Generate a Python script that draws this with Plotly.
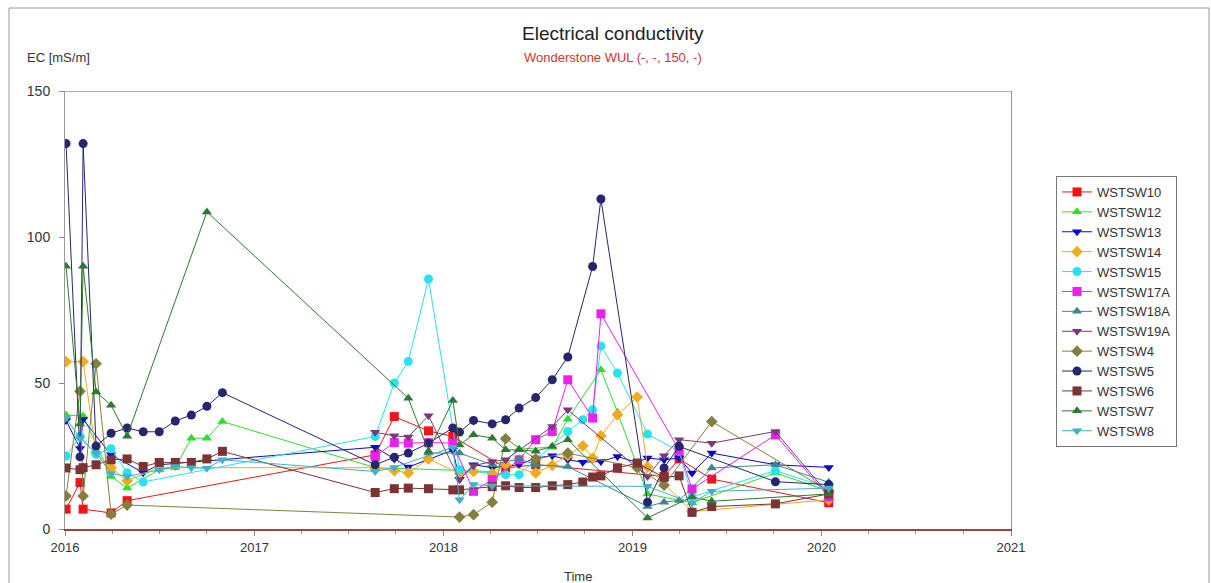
import plotly.graph_objects as go

N = None

DATES = [
    "2016-01-03", "2016-01-30", "2016-02-05", "2016-03-01", "2016-03-30", "2016-04-30",
    "2016-05-31", "2016-07-01", "2016-08-01", "2016-09-01", "2016-10-01", "2016-10-31",
    "2017-08-22", "2017-09-28", "2017-10-25", "2017-12-03", "2018-01-19", "2018-02-01",
    "2018-02-28", "2018-04-05", "2018-05-01", "2018-05-27", "2018-06-28", "2018-07-30",
    "2018-08-29", "2018-09-27", "2018-10-16", "2018-11-01", "2018-12-03", "2019-01-10",
    "2019-01-30", "2019-03-03", "2019-04-01", "2019-04-26", "2019-06-03", "2019-10-04",
    "2020-01-15",
]

WSTSW10 = [6.8, 15.9, 6.8, N, 5.5, 9.7, N, N, N, N, N, N,
           25.4, 38.5, N, 33.6, 31.7, N, N, N, 20.9, N, 22, N,
           N, N, N, N, N, N, N, 18, 24, N, 17.1, N, 9]
WSTSW12 = [39, N, 38.7, N, 18, 14, N, 20.3, 21, 31.1, 31.1, 36.8,
           21, N, N, N, N, N, N, 19.7, N, 27.4, N, 28,
           37.6, N, N, 54.5, 40, N, 12, N, N, 9, N, 19.2, 13]
WSTSW13 = [37.2, 27.6, 37.5, N, 25.4, N, 19.3, 22, N, N, N, N,
           28, 24, 21.2, N, 27, 17, 22, 21, N, 22, 24.3, 25.1,
           23.7, 22.9, N, 23.1, 24.8, 22.8, 24.3, 23.7, 24.3, 19.2, 26, 22, 21.1]
WSTSW14 = [57.3, N, 57.3, 26, 21, 16.5, N, 21, N, N, N, N,
           21, 20, 19.2, 24, N, 19, 19.7, 19, 22, N, 19.2, 21.8,
           25.1, 28.5, 24.3, 31.9, 39.1, 45.2, 21.2, N, N, 6, N, N, 10]
WSTSW15 = [25, 31.8, N, 25.6, 27.5, 19.3, 16.1, N, N, N, N, N,
           31.7, 50, 57.4, 85.6, N, 20.3, N, N, 18.6, 18.6, N, N,
           33.4, 37.4, 40.8, 62.7, 53.4, N, 32.5, N, 26.6, 11, N, 20, 14]
WSTSW17A = [N, N, N, N, N, N, N, N, N, N, N, N,
            24.8, 29.6, 29.4, 29.6, 29.4, N, 12.9, 16.9, N, 23.7, 30.6, 33.4,
            51.1, N, 38, 73.7, N, N, N, N, 27, 13.7, N, 32.2, 11]
WSTSW18A = [N, N, N, N, N, N, N, N, N, N, N, N,
            N, N, N, 26, N, 26, N, 22, N, 24, 22, N,
            21.4, N, N, N, N, N, 7.7, 9.2, 9.8, N, 20.9, 22, 16]
WSTSW19A = [N, N, N, N, N, N, N, N, N, N, N, N,
            33.1, 31.9, 31.5, 38.8, N, 16.9, 21.7, 23.1, 23.7, N, N, 35.1,
            40.8, N, N, N, N, N, 18, 25.1, 30.6, N, 29.4, 33.4, 11.7]
WSTSW4 = [11.3, 47.2, 11.3, 56.6, 5.1, 8.2, N, N, N, N, N, N,
          N, N, N, N, N, 4.1, 4.9, 9.2, 30.9, N, 24, N,
          26, N, N, N, N, 21, N, 15, N, N, 36.8, N, 13]
WSTSW5 = [132, 24.7, 132, 28.4, 32.8, 34.6, 33.3, 33.3, 37, 39, 42, 46.7,
          22, 24.6, 26, 29.4, 34.6, 33.2, 37.2, 36, 37.4, 41.4, 45, 51.1,
          58.9, N, 89.9, 113, N, N, 9.2, 20.9, 28.3, N, N, 16.2, 15.2]
WSTSW6 = [20.9, 20.3, 21, 22, 23.7, 24, 21.4, 22.8, 22.8, 22.8, 24, 26.6,
          12.5, 13.8, 14, 13.8, 13.4, 13.4, N, 14.5, 14.8, 14.2, 14.2, 14.8,
          15.2, 16.1, 17.8, 18.2, 20.9, 22.6, N, 17.7, 18.2, 5.7, 7.7, 8.6, 12]
WSTSW7 = [90, 36, 90, 46.9, 42.4, 31.8, N, N, N, N, 108.6, N,
          N, N, 44.8, 26.6, 44, 28.8, 32.3, 31.1, 27.1, 27.1, 26.6, 28.3,
          30.6, N, N, N, N, N, 3.8, N, N, 11, 9.5, N, 12]
WSTSW8 = [38, 31, N, 26, 19, 18, N, 20.3, 21.4, 21, 20.8, 23.7,
          19.7, 21.1, N, N, 28, 10, 15.2, 14.8, N, N, N, N,
          N, N, N, N, N, N, 14.6, N, N, 8.9, 12.9, N, 14]

SERIES = [
    ("WSTSW10", WSTSW10, "#ee1515", "square"),
    ("WSTSW12", WSTSW12, "#2ee02e", "triangle-up"),
    ("WSTSW13", WSTSW13, "#0a0acc", "triangle-down"),
    ("WSTSW14", WSTSW14, "#f2aa1e", "diamond"),
    ("WSTSW15", WSTSW15, "#26e3ee", "circle"),
    ("WSTSW17A", WSTSW17A, "#ee20ee", "square"),
    ("WSTSW18A", WSTSW18A, "#3a8a8a", "triangle-up"),
    ("WSTSW19A", WSTSW19A, "#7a3a7a", "triangle-down"),
    ("WSTSW4", WSTSW4, "#857f3f", "diamond"),
    ("WSTSW5", WSTSW5, "#25266e", "circle"),
    ("WSTSW6", WSTSW6, "#7b3333", "square"),
    ("WSTSW7", WSTSW7, "#2f7a33", "triangle-up"),
    ("WSTSW8", WSTSW8, "#42b0c8", "triangle-down"),
]

LIMIT = 150

fig = go.Figure()
for name, vals, color, sym in SERIES:
    fig.add_trace(go.Scatter(
        x=DATES, y=vals, name=name, mode="lines+markers", connectgaps=True,
        line=dict(color=color, width=1),
        marker=dict(color=color, symbol=sym, size=9),
    ))

L, R, T, B = 65, 200, 91, 54
W, H = 1211, 583
pw, ph = W - L - R, H - T - B

def px(x):
    return (x - L) / pw

def py(y):
    return (H - B - y) / ph

fig.update_layout(
    width=W, height=H, autosize=False,
    margin=dict(l=L, r=R, t=T, b=B),
    paper_bgcolor="white", plot_bgcolor="white",
    font=dict(family="Liberation Sans, Arial, sans-serif", size=13, color="#333"),
    showlegend=True,
    legend=dict(x=px(1056), y=py(176), xanchor="left", yanchor="top",
                bordercolor="#777", borderwidth=1, bgcolor="white",
                font=dict(size=13, color="#333"), tracegroupgap=0, itemwidth=30),
    xaxis=dict(type="date", range=["2016-01-01", "2021-01-01"], dtick="M12",
               tick0="2016-01-01", tickformat="%Y", ticks="outside", ticklen=5,
               tickcolor="#888", showgrid=False, zeroline=False,
               showline=True, linecolor="#a04040", linewidth=2,
               minor=dict(dtick="M3", ticks="outside", ticklen=3, tickcolor="#999"),
               tickfont=dict(size=13, color="#333")),
    yaxis=dict(range=[0, 150], tickvals=[0, 50, 100, 150], ticks="outside",
               ticklen=5, tickcolor="#888", showgrid=False, zeroline=False,
               showline=True, linecolor="#999", linewidth=1, mirror=True,
               ticklabelstandoff=6,
               tickfont=dict(size=14, color="#333")),
)

fig.add_shape(type="line", xref="paper", yref="y", x0=0, x1=1, y0=LIMIT, y1=LIMIT,
              line=dict(color="#e07878", width=1.5))
fig.add_shape(type="rect", xref="paper", yref="paper",
              x0=px(9), x1=px(1209), y0=py(600), y1=py(8),
              line=dict(color="#999", width=1), layer="below")

fig.add_annotation(text="Electrical conductivity", xref="paper", yref="paper",
                   x=px(613), y=py(33), showarrow=False, xanchor="center", yanchor="middle",
                   font=dict(size=19, color="#222"))
fig.add_annotation(text="Wonderstone WUL (-, -, 150, -)", xref="paper", yref="paper",
                   x=px(613), y=py(57), showarrow=False, xanchor="center", yanchor="middle",
                   font=dict(size=13, color="#d03535"))
fig.add_annotation(text="EC [mS/m]", xref="paper", yref="paper",
                   x=px(25), y=py(58), showarrow=False, xanchor="left", yanchor="middle",
                   font=dict(size=13, color="#333"))
fig.add_annotation(text="Time", xref="paper", yref="paper",
                   x=px(578), y=py(576), showarrow=False, xanchor="center", yanchor="middle",
                   font=dict(size=13, color="#333"))

fig.write_html("out.html")
